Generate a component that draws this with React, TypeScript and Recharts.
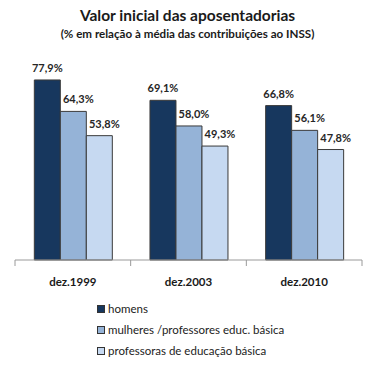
import React from 'react';
import { BarChart, Bar, XAxis, YAxis, Legend, LabelList } from 'recharts';

const categories = ['dez.1999', 'dez.2003', 'dez.2010'];
const homens = [77.9, 69.1, 66.8];
const mulheres = [64.3, 58.0, 56.1];
const professoras = [53.8, 49.3, 47.8];
const seriesNames = ['homens', 'mulheres /professores educ. básica', 'professoras de educação básica'];
const colors = ['#17375E', '#95B3D7', '#C6D9F1'];

const data = categories.map((c, i) => ({
  name: c,
  homens: homens[i],
  mulheres: mulheres[i],
  professoras: professoras[i],
}));

const FONT = 'Lato, "Open Sans", sans-serif';

const fmt = (v: any) => `${Number(v).toFixed(1).replace('.', ',')}%`;

const LegendContent = () => (
  <div style={{ fontFamily: FONT, fontSize: 11.5, color: '#222' }}>
    {seriesNames.map((n, i) => (
      <div key={n} style={{ display: 'flex', alignItems: 'center', height: 21 }}>
        <span
          style={{
            display: 'inline-block',
            width: 6,
            height: 6,
            background: colors[i],
            border: '1px solid #333',
            marginRight: 3,
          }}
        />
        <span>{n}</span>
      </div>
    ))}
  </div>
);

const CatTick = (props: any) => {
  const { x, y, payload, index, visibleTicksCount } = props;
  const half = payload && payload.offset ? payload.offset : 57.8;
  const last = index === (visibleTicksCount ?? 3) - 1;
  return (
    <g>
      <line x1={x - half} x2={x - half} y1={y} y2={y + 6} stroke="#9a9a9a" />
      {last && <line x1={x + half} x2={x + half} y1={y} y2={y + 6} stroke="#9a9a9a" />}
      <text
        x={x}
        y={y + 21}
        textAnchor="middle"
        dominantBaseline="central"
        fontFamily={FONT}
        fontWeight="bold"
        fontSize={11.5}
        fill="#1a1a1a"
      >
        {payload.value}
      </text>
    </g>
  );
};

const makeLabel = (dx: number) => (props: any) => {
  const { x, y, width, value } = props;
  return (
    <text
      x={x + width / 2 + dx}
      y={y - 8}
      textAnchor="middle"
      fontFamily={FONT}
      fontWeight="bold"
      fontSize={11}
      fill="#262626"
    >
      {fmt(value)}
    </text>
  );
};

const labelShift = [0, 5, 5];

export default function App() {
  return (
    <div style={{ position: 'absolute', left: 0, top: 0, width: 375, height: 369, background: '#fff' }}>
      <div
        style={{
          position: 'absolute',
          left: 0,
          width: 375,
          top: 5,
          textAlign: 'center',
          fontFamily: FONT,
          fontWeight: 'bold',
          fontSize: 15.5,
          color: '#1a1a1a',
          lineHeight: '20px',
        }}
      >
        Valor inicial das aposentadorias
      </div>
      <div
        style={{
          position: 'absolute',
          left: 0,
          width: 375,
          top: 26,
          textAlign: 'center',
          fontFamily: FONT,
          fontWeight: 'bold',
          fontSize: 11.6,
          color: '#1a1a1a',
          lineHeight: '16px',
        }}
      >
        (% em relação à média das contribuições ao INSS)
      </div>
      <BarChart
        width={375}
        height={369}
        data={data}
        margin={{ top: 52, right: 13, left: 15, bottom: 79 }}
        barCategoryGap="16.7%"
        barGap={0}
      >
        <XAxis
          dataKey="name"
          stroke="#9a9a9a"
          tickLine={false}
          tickSize={0}
          tickMargin={0}
          height={30}
          tick={CatTick}
          interval={0}
        />
        <YAxis hide domain={[0, 90]} />
        <Legend
          layout="vertical"
          verticalAlign="middle"
          align="center"
          content={LegendContent}
          wrapperStyle={{ position: 'absolute', top: 298, left: 97, width: 260 }}
        />
        {['homens', 'mulheres', 'professoras'].map((k, i) => (
          <Bar
            key={k}
            dataKey={k}
            name={seriesNames[i]}
            fill={colors[i]}
            stroke="#3a3a3a"
            strokeWidth={1}
            isAnimationActive={false}
          >
            <LabelList dataKey={k} content={makeLabel(labelShift[i])} />
          </Bar>
        ))}
      </BarChart>
    </div>
  );
}
